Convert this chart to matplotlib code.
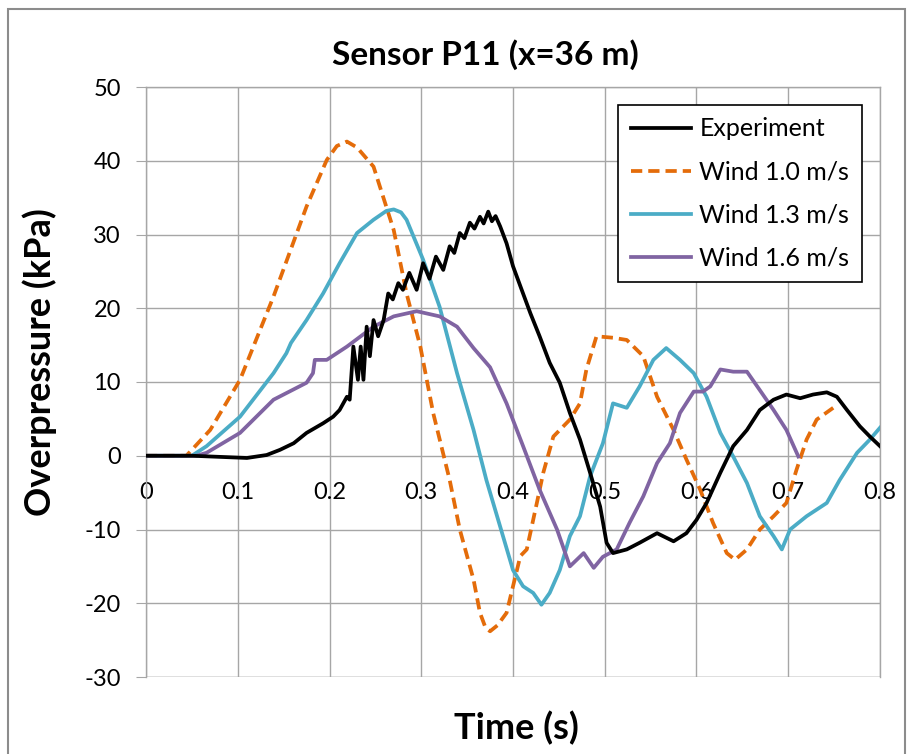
import numpy as np
import matplotlib
matplotlib.use('Agg')
from matplotlib import pyplot as plt
from matplotlib.patches import Rectangle

# values (time in s, overpressure in kPa)
exp_t = [0.0, 0.05, 0.110, 0.1315, 0.146, 0.161, 0.175, 0.193, 0.204, 0.211, 0.219, 0.222,
         0.226, 0.231, 0.234, 0.237, 0.2405, 0.244, 0.248, 0.253, 0.259, 0.264, 0.269,
         0.275, 0.280, 0.287, 0.295, 0.302, 0.309, 0.316, 0.324, 0.331, 0.336, 0.342,
         0.347, 0.353, 0.358, 0.364, 0.368, 0.373, 0.377, 0.381, 0.386, 0.393, 0.400,
         0.408, 0.419, 0.429, 0.440, 0.451, 0.462, 0.473, 0.484, 0.495, 0.502, 0.509,
         0.524, 0.538, 0.557, 0.575, 0.589, 0.600, 0.611, 0.626, 0.640, 0.655, 0.669,
         0.684, 0.698, 0.713, 0.727, 0.742, 0.753, 0.764, 0.778, 0.789, 0.800]
exp_p = [0.0, 0.0, -0.3, 0.1, 0.8, 1.7, 3.1, 4.4, 5.3, 6.2, 8.0, 7.6,
         14.8, 10.3, 14.8, 10.3, 17.5, 13.5, 18.4, 16.2, 18.4, 22.0, 21.2,
         23.4, 22.5, 24.8, 22.5, 26.1, 24.0, 27.0, 25.2, 28.4, 27.5, 30.2,
         29.5, 31.6, 30.8, 32.4, 31.5, 33.1, 31.8, 32.5, 31.1, 28.8, 25.7,
         23.0, 19.3, 16.2, 12.6, 9.9, 5.8, 2.2, -2.3, -6.9, -11.8, -13.2,
         -12.7, -11.8, -10.5, -11.6, -10.5, -8.7, -6.4, -2.3, 1.3, 3.5, 6.2,
         7.6, 8.3, 7.8, 8.3, 8.6, 8.0, 6.2, 4.0, 2.6, 1.3]

w10_t = [0.0, 0.044, 0.07, 0.1025, 0.139, 0.175, 0.197, 0.208, 0.219, 0.230, 0.248,
         0.270, 0.284, 0.299, 0.313, 0.331, 0.342, 0.357, 0.364, 0.370, 0.375,
         0.383, 0.393, 0.408, 0.415, 0.426, 0.433, 0.444, 0.462, 0.473, 0.480,
         0.491, 0.509, 0.524, 0.542, 0.557, 0.575, 0.589, 0.604, 0.618, 0.633,
         0.642, 0.655, 0.669, 0.684, 0.698, 0.709, 0.720, 0.731, 0.749]
w10_p = [0.0, 0.0, 3.5, 10.3, 21.6, 33.8, 40.1, 42.0, 42.6, 41.8, 39.2,
         30.6, 22.0, 14.8, 5.8, -3.3, -10.0, -16.8, -21.3, -23.3, -23.8,
         -23.0, -21.3, -13.6, -12.7, -6.4, -2.3, 2.6, 4.9, 7.1, 11.7,
         16.2, 16.0, 15.7, 13.5, 8.0, 3.5, -0.5, -4.6, -9.1, -13.2,
         -14.1, -12.7, -10.0, -8.2, -6.4, -1.9, 2.2, 4.9, 6.5]

w13_t = [0.0, 0.05, 0.066, 0.1025, 0.139, 0.153, 0.158, 0.175, 0.193, 0.211, 0.230,
         0.248, 0.262, 0.270, 0.278, 0.284, 0.302, 0.320, 0.339, 0.357, 0.371,
         0.386, 0.400, 0.411, 0.422, 0.431, 0.440, 0.451, 0.462, 0.473, 0.484,
         0.498, 0.509, 0.524, 0.538, 0.553, 0.567, 0.582, 0.597, 0.611, 0.626,
         0.640, 0.655, 0.669, 0.684, 0.693, 0.702, 0.720, 0.742, 0.756, 0.775,
         0.789, 0.800]
w13_p = [0.0, 0.0, 1.3, 5.3, 11.2, 13.9, 15.3, 18.4, 22.0, 26.1, 30.2,
         32.0, 33.2, 33.4, 33.0, 32.0, 26.6, 20.2, 11.2, 3.5, -3.3,
         -9.6, -15.5, -17.7, -18.6, -20.2, -18.6, -15.5, -10.9, -8.2, -2.8,
         1.7, 7.1, 6.5, 9.4, 13.0, 14.6, 13.0, 11.2, 8.0, 3.1,
         -0.1, -3.7, -8.2, -10.9, -12.7, -10.0, -8.2, -6.4, -3.3, 0.4,
         2.2, 3.8]

w16_t = [0.0, 0.055, 0.066, 0.1025, 0.139, 0.175, 0.182, 0.184, 0.197, 0.219, 0.248,
         0.270, 0.295, 0.320, 0.339, 0.357, 0.375, 0.393, 0.411, 0.429, 0.448,
         0.462, 0.477, 0.488, 0.498, 0.513, 0.527, 0.542, 0.557, 0.571, 0.582,
         0.597, 0.607, 0.615, 0.626, 0.640, 0.655, 0.669, 0.684, 0.698, 0.711]
w16_p = [0.0, 0.0, 0.4, 3.1, 7.6, 9.9, 11.2, 13.0, 13.0, 14.8, 17.5,
         18.9, 19.6, 18.9, 17.5, 14.6, 12.0, 7.1, 1.3, -4.6, -10.0,
         -15.0, -13.2, -15.2, -13.7, -12.7, -9.1, -5.5, -1.0, 1.7, 5.8,
         8.7, 8.7, 9.4, 11.7, 11.4, 11.4, 8.9, 6.2, 3.5, -0.1]

x_ticks = [0, 0.1, 0.2, 0.3, 0.4, 0.5, 0.6, 0.7, 0.8]
x_labels = ['0', '0.1', '0.2', '0.3', '0.4', '0.5', '0.6', '0.7', '0.8']
y_ticks = [-30, -20, -10, 0, 10, 20, 30, 40, 50]

plt.rcParams['font.family'] = ['Lato', 'DejaVu Sans']
plt.rcParams['axes.unicode_minus'] = False

W, H = 911, 754
fig = plt.figure(figsize=(W / 100, H / 100), dpi=100)
ax = fig.add_axes([146 / W, 1 - 677 / H, (880 - 146) / W, (677 - 87) / H])

# chart area border (Excel style)
fig.patches.append(Rectangle((8 / W, -0.01), (905 - 8) / W, 1 - 9 / H + 0.01,
                             transform=fig.transFigure, fill=False,
                             edgecolor='#8c8c8c', lw=1.5))

grid_col = '#a6a6a6'
lw = 2.7
ax.plot(exp_t, exp_p, color='black', lw=lw, label='Experiment', zorder=5)
ax.plot(w10_t, w10_p, color='#e46c0a', lw=lw, ls=(0, (3.0, 1.6)), label='Wind 1.0 m/s', zorder=4)
ax.plot(w13_t, w13_p, color='#4bacc6', lw=lw, label='Wind 1.3 m/s', zorder=4)
ax.plot(w16_t, w16_p, color='#8064a2', lw=lw, label='Wind 1.6 m/s', zorder=4)

ax.set_xlim(0, 0.8)
ax.set_ylim(-30, 50)
ax.set_xticks(x_ticks)
ax.set_xticklabels(x_labels)
ax.set_yticks(y_ticks)
ax.grid(True, color=grid_col, lw=1.0)
ax.set_axisbelow(True)
for s in ax.spines.values():
    s.set_color(grid_col)
    s.set_linewidth(1.0)

# x labels sit just under the zero line, like the Excel chart
ax.spines['bottom'].set_position(('data', 0))
ax.spines['bottom'].set_visible(False)
ax.axhline(-30, color=grid_col, lw=1.0, zorder=0)
ax.tick_params(axis='x', length=0, labelsize=17, pad=19)
ax.tick_params(axis='y', length=7, color=grid_col, labelsize=17, pad=11)

fig.text(485 / W, 1 - 55 / H, 'Sensor P11 (x=36 m)', fontsize=24, fontweight='bold',
         ha='center', va='center')
fig.text(40 / W, 1 - 362 / H, 'Overpressure (kPa)', fontsize=26, fontweight='bold',
         ha='center', va='center', rotation=90)
fig.text(516 / W, 1 - 728 / H, 'Time (s)', fontsize=26, fontweight='bold',
         ha='center', va='center')

leg = ax.legend(loc='upper left', bbox_to_anchor=(618 / W, 1 - 105 / H),
                bbox_transform=fig.transFigure, borderaxespad=0, fontsize=18,
                frameon=True, fancybox=False, edgecolor='black', framealpha=1,
                handlelength=2.4, labelspacing=0.8, borderpad=0.5, handletextpad=0.35)
leg.get_frame().set_linewidth(1.2)

fig.savefig('out.png', dpi=100)
